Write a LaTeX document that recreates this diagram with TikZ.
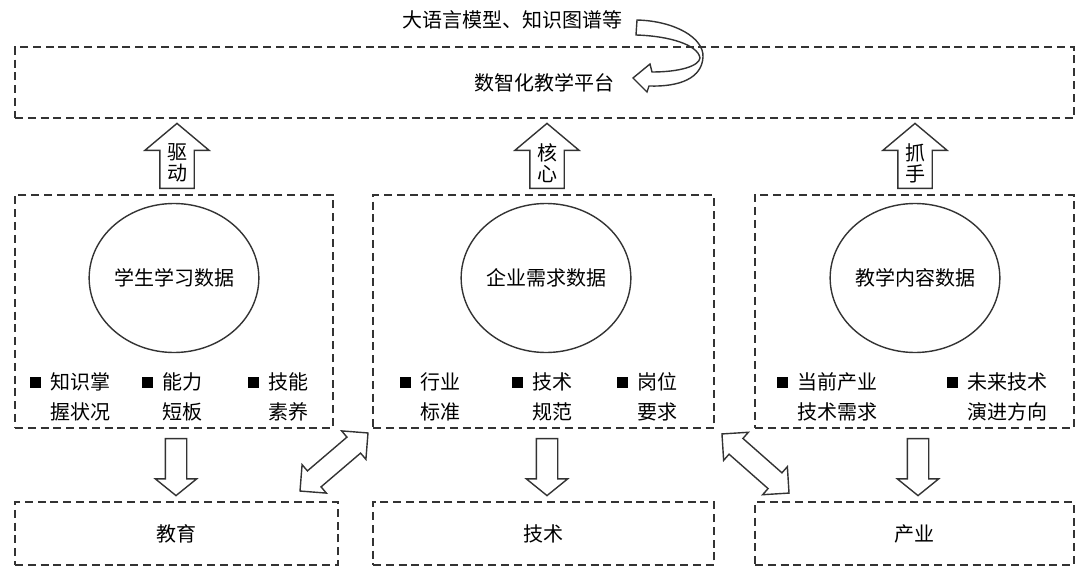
\documentclass[tikz,border=0pt]{standalone}
\usepackage{fontspec}
\setmainfont{Noto Sans CJK SC}
\usetikzlibrary{shapes.geometric, shapes.arrows}

% квадратный маркер пункта
\newcommand{\sqb}{\raisebox{1pt}{\rule{5.5pt}{5.5pt}}\hspace{4.5pt}}

\tikzset{
    box/.style={draw=black!80, line width=0.9pt, dash pattern=on 4pt off 2.4pt},
    dat/.style={draw=black!80, ellipse, line width=0.7pt, minimum width=82pt, minimum height=74.5pt, inner sep=0pt},
    item/.style={anchor=west, align=left, inner sep=0pt, font=\fontsize{10}{15}\selectfont},
    upa/.style={draw=black!80, line width=0.7pt, single arrow, shape border rotate=90,
        single arrow head extend=7.5pt, single arrow tip angle=100, minimum height=32.5pt,
        inner xsep=3.25pt, inner ysep=1pt, align=center, font=\fontsize{10}{10.5}\selectfont, anchor=tail},
    dna/.style={draw=black!80, line width=0.7pt, single arrow, shape border rotate=270,
        single arrow head extend=5pt, single arrow tip angle=102, minimum height=28.5pt, inner sep=5pt, anchor=tail},
    dba/.style={draw=black!80, line width=0.7pt, double arrow, double arrow head extend=4.1pt,
        double arrow tip angle=90, minimum height=44.7pt, inner sep=4.9pt}
}

\begin{document}
\begin{tikzpicture}[x=0.5pt, y=-0.5pt, every node/.style={font=\fontsize{10}{12}\selectfont}]
    % параметры
    \def\Hm{116.5pt}   % высота средних блоков
    \def\Hb{31.5pt}    % высота нижних блоков

    \useasboundingbox (0,0) rectangle (1083,573);

    % платформа
    \node[box, minimum width=529.5pt, minimum height=35.5pt] (plat) at (544.5,82.5) {数智化教学平台};
    \node (llm) at (512,20) {大语言模型、知识图谱等};

    % изогнутая стрелка
    \draw[black!80, line width=0.7pt] (637,20) .. controls (675,21) and (704,38) .. (703,57)
        .. controls (702,78) and (680,87) .. (649,86) -- (647,92) -- (633,78) -- (650,64) -- (652,72)
        .. controls (680,72) and (699,66) .. (700,58)
        .. controls (698,45) and (670,36) .. (636,35) -- cycle;

    % три блока данных
    \node[box, minimum width=159pt, minimum height=\Hm] (stu) at (174,311.5) {};
    \node[box, minimum width=170.5pt, minimum height=\Hm] (ent) at (543.5,311.5) {};
    \node[box, minimum width=159.5pt, minimum height=\Hm] (cont) at (914.5,311.5) {};

    \node[dat] (stud) at (174,278) {学生学习数据};
    \node[dat] (entd) at (546,278) {企业需求数据};
    \node[dat] (contd) at (915,278) {教学内容数据};

    % пункты
    \node[item] (s1) at (30,397) {\sqb 知识掌\\\hspace*{10pt}握状况};
    \node[item] (s2) at (142,397) {\sqb 能力\\\hspace*{10pt}短板};
    \node[item] (s3) at (248,397) {\sqb 技能\\\hspace*{10pt}素养};
    \node[item] (e1) at (400,397) {\sqb 行业\\\hspace*{10pt}标准};
    \node[item] (e2) at (512,397) {\sqb 技术\\\hspace*{10pt}规范};
    \node[item] (e3) at (617,397) {\sqb 岗位\\\hspace*{10pt}要求};
    \node[item] (c1) at (777,397) {\sqb 当前产业\\\hspace*{10pt}技术需求};
    \node[item] (c2) at (947,397) {\sqb 未来技术\\\hspace*{10pt}演进方向};

    % нижние блоки
    \node[box, minimum width=161.5pt, minimum height=\Hb] (edu) at (176.5,533.5) {教育};
    \node[box, minimum width=170.5pt, minimum height=\Hb] (tech) at (543.5,533.5) {技术};
    \node[box, minimum width=159.5pt, minimum height=\Hb] (ind) at (914.5,533.5) {产业};

    % стрелки вверх
    \node[upa] (drv) at ([xshift=1.5pt, yshift=2.5pt]stu.north) {驱\\动};
    \node[upa] (core) at ([xshift=1.75pt, yshift=2.5pt]ent.north) {核\\心};
    \node[upa] (grip) at ([xshift=0.25pt, yshift=2.5pt]cont.north) {抓\\手};

    % стрелки вниз
    \node[dna] (d1) at ([xshift=1pt, yshift=-4.5pt]stu.south) {};
    \node[dna] (d2) at ([xshift=1.75pt, yshift=-4.5pt]ent.south) {};
    \node[dna] (d3) at ([xshift=1.75pt, yshift=-4.5pt]cont.south) {};

    % двойные стрелки
    \node[dba, rotate=40.5] (lnk1) at (334,462) {};
    \node[dba, rotate=-41.4] (lnk2) at (755.5,463.5) {};
\end{tikzpicture}
\end{document}
